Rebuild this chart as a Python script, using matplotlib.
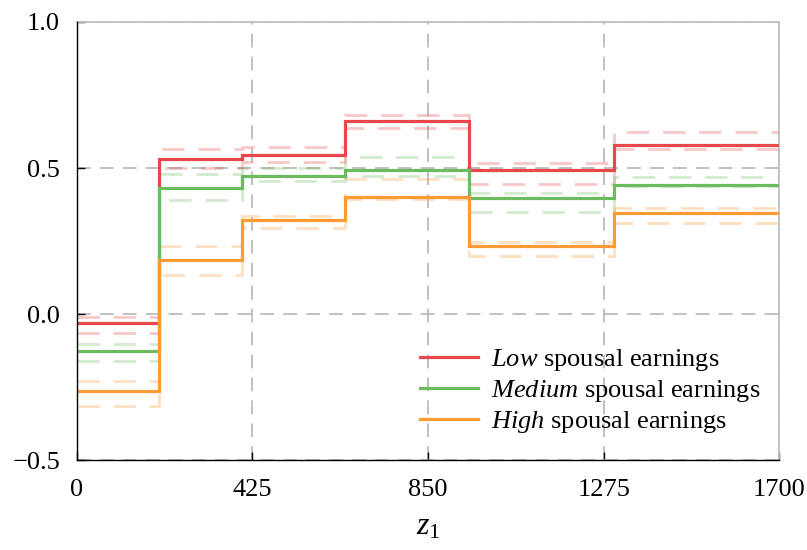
import matplotlib
matplotlib.use("Agg")
import matplotlib.pyplot as plt
import numpy as np

plt.rcParams['font.family'] = ['Liberation Serif', 'DejaVu Serif']
plt.rcParams['mathtext.fontset'] = 'custom'
plt.rcParams['mathtext.rm'] = 'Liberation Serif'
plt.rcParams['mathtext.it'] = 'Liberation Serif:italic'

# bin edges of z1
edges = [0, 200, 400, 650, 950, 1300, 1700]

# point estimates
low = [-0.032, 0.530, 0.544, 0.660, 0.493, 0.578]
medium = [-0.127, 0.433, 0.474, 0.493, 0.397, 0.443]
high = [-0.264, 0.184, 0.322, 0.401, 0.233, 0.346]

# confidence bounds
low_upper = [-0.009, 0.564, 0.571, 0.681, 0.516, 0.622]
low_lower = [-0.066, 0.500, 0.522, 0.638, 0.444, 0.566]
medium_upper = [-0.104, 0.478, 0.499, 0.539, 0.416, 0.470]
medium_lower = [-0.161, 0.389, 0.455, 0.474, 0.350, 0.437]
high_upper = [-0.228, 0.232, 0.336, 0.462, 0.248, 0.364]
high_lower = [-0.314, 0.132, 0.293, 0.394, 0.200, 0.311]

labels = [r"$\it{Low}$ spousal earnings",
          r"$\it{Medium}$ spousal earnings",
          r"$\it{High}$ spousal earnings"]
colors = ['#e8474b', '#6cbb5e', '#ff9a35']

xticks = [0, 425, 850, 1275, 1700]
yticks = [-0.5, 0.0, 0.5, 1.0]

fig = plt.figure(figsize=(8.07, 5.5), dpi=100)
ax = fig.add_axes([0.095, 0.1636, 0.8707, 0.7964])

series = [(low, low_upper, low_lower),
          (medium, medium_upper, medium_lower),
          (high, high_upper, high_lower)]

for (est, up, lo), c in zip(series, colors):
    for b in (up, lo):
        ax.stairs(b, edges, baseline=None, color=c, alpha=0.3, lw=2.0,
                  linestyle=(0, (8, 5)), zorder=2)

for (est, up, lo), c, lab in zip(series, colors, labels):
    ax.stairs(est, edges, baseline=None, color=c, lw=2.3, zorder=3, label=lab)

ax.set_xlim(0, 1700)
ax.set_ylim(-0.5, 1.0)
ax.set_xticks(xticks)
ax.set_xticklabels([str(t) for t in xticks])
ax.set_yticks(yticks)
ax.set_yticklabels(['\u22120.5', '0.0', '0.5', '1.0'])

ax.grid(True, color='#b0b0b0', linestyle=(0, (9, 6)), lw=1.1, zorder=1)

for s in ['left', 'bottom']:
    ax.spines[s].set_color('black')
    ax.spines[s].set_linewidth(1.0)
    ax.spines[s].set_zorder(5)
for s in ['top', 'right']:
    ax.spines[s].set_color('#c0c0c0')
    ax.spines[s].set_linewidth(1.3)

ax.tick_params(direction='in', length=6, width=1.0, labelsize=19,
               top=False, right=False)
ax.tick_params(axis='x', pad=14)
ax.tick_params(axis='y', pad=12)

ax.set_xlabel(r"$z_1$", fontsize=23, labelpad=8)

ax.legend(loc='lower right', bbox_to_anchor=(0.988, 0.032), frameon=False,
          fontsize=19, handlelength=2.2, handletextpad=0.5, labelspacing=0.2,
          borderaxespad=0.0)

fig.savefig('out.png', dpi=100)
